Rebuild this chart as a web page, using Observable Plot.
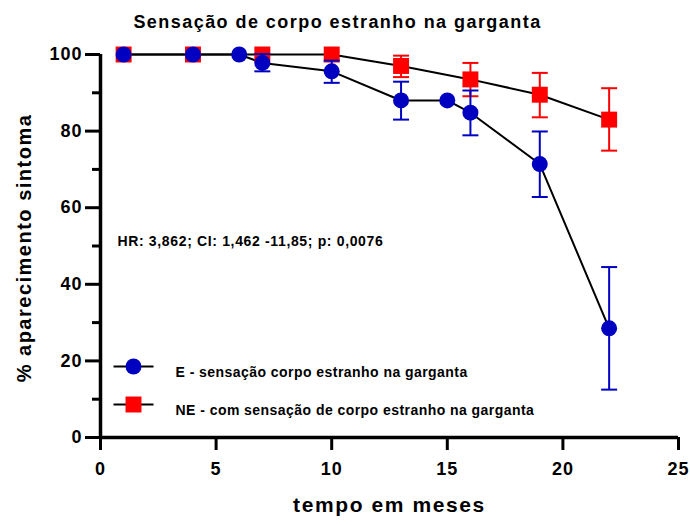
<!DOCTYPE html>
<html>
<head>
<meta charset="utf-8">
<script src="https://cdn.jsdelivr.net/npm/d3@7"></script>
<script src="https://cdn.jsdelivr.net/npm/@observablehq/plot@0.6"></script>
<style>
  html, body { margin: 0; padding: 0; background: #fff; }
  svg { display: block; }
</style>
</head>
<body>
<div id="chart"></div>
<script>
// ---- data ----
const eMonths = [1, 4, 6, 7, 10, 13, 15, 16, 19, 22];
const eValues = [100, 100, 100, 97.8, 95.6, 88.0, 88.0, 84.8, 71.4, 28.5];
const eLow    = [null, null, null, 95.6, 92.6, 83.0, null, 78.9, 62.8, 12.5];
const eHigh   = [null, null, null, 100.1, 98.4, 92.9, null, 90.6, 79.9, 44.5];

const neMonths = [1, 4, 7, 10, 13, 16, 19, 22];
const neValues = [100, 100, 100, 100, 97.0, 93.5, 89.5, 83.0];
const neLow    = [null, null, null, null, 94.1, 89.1, 83.6, 74.9];
const neHigh   = [null, null, null, null, 99.7, 97.8, 95.2, 91.2];

const xTicks = [0, 5, 10, 15, 20, 25];
const yTicks = [0, 20, 40, 60, 80, 100];
const yMinorTicks = [10, 30, 50, 70, 90];

const titleText = "Sensação de corpo estranho na garganta";
const xLabel = "tempo em meses";
const yLabel = "% aparecimento sintoma";
const statsText = "HR: 3,862; CI: 1,462 -11,85; p: 0,0076";
const legendLabels = ["E - sensação corpo estranho na garganta", "NE - com sensação de corpo estranho na garganta"];

// ---- tables ----
const eData = eMonths.map((m, i) => ({x: m, y: eValues[i], lo: eLow[i], hi: eHigh[i]}));
const neData = neMonths.map((m, i) => ({x: m, y: neValues[i], lo: neLow[i], hi: neHigh[i]}));
const eErr = eData.filter(d => d.lo != null);
const neErr = neData.filter(d => d.lo != null);

const BLUE = "#0000c0";
const RED = "#ff0000";
const FONT = "Liberation Sans, Arial, sans-serif";

const cap = { draw(ctx) { ctx.moveTo(-8, 0); ctx.lineTo(8, 0); } };
const legendLine = { draw(ctx) { ctx.moveTo(-20, 0); ctx.lineTo(20, 0); } };

function errMarks(data, color) {
  return [
    Plot.ruleX(data, {x: "x", y1: "lo", y2: "hi", stroke: color, strokeWidth: 2}),
    Plot.dot(data, {x: "x", y: "lo", symbol: cap, stroke: color, strokeWidth: 2, fill: "none"}),
    Plot.dot(data, {x: "x", y: "hi", symbol: cap, stroke: color, strokeWidth: 2, fill: "none"})
  ];
}

const chart = Plot.plot({
  width: 690,
  height: 525,
  marginLeft: 100,
  marginRight: 12,
  marginTop: 54,
  marginBottom: 88,
  style: {fontFamily: FONT, color: "#000", background: "#fff"},
  x: {domain: [0, 25]},
  y: {domain: [0, 100]},
  marks: [
    Plot.axisX({ticks: xTicks, tickSize: 13, tickPadding: 12, strokeWidth: 3, fontSize: 18, fontWeight: "bold", label: null}),
    Plot.axisY({ticks: yTicks, tickSize: 15, tickPadding: 3, strokeWidth: 3, fontSize: 18, fontWeight: "bold", label: null}),
    Plot.axisY({ticks: yMinorTicks, tickSize: 8, strokeWidth: 3, text: null, label: null}),
    Plot.ruleX([0], {strokeWidth: 3.5}),
    Plot.ruleY([0], {strokeWidth: 3.5}),
    Plot.line(neData, {x: "x", y: "y", stroke: "#000", strokeWidth: 2}),
    Plot.line(eData, {x: "x", y: "y", stroke: "#000", strokeWidth: 2}),
    ...errMarks(neErr, RED),
    Plot.dot(neData, {x: "x", y: "y", symbol: "square", r: 9, fill: RED}),
    ...errMarks(eErr, BLUE),
    Plot.dot(eData, {x: "x", y: "y", symbol: "circle", r: 8, fill: BLUE}),
    // texts
    Plot.text([titleText], {frameAnchor: "top-left", dx: 237, dy: -39, text: d => d, fontSize: 18, fontWeight: "bold", textAnchor: "middle"}),
    Plot.text([xLabel], {frameAnchor: "bottom", dy: 74, text: d => d, fontSize: 21, fontWeight: "bold", textAnchor: "middle"}),
    Plot.text([yLabel], {frameAnchor: "left", dx: -76, dy: 2, rotate: -90, text: d => d, fontSize: 20, fontWeight: "bold", textAnchor: "middle"}),
    Plot.text([statsText], {frameAnchor: "top-left", dx: 17, dy: 182, text: d => d, fontSize: 14, fontWeight: "bold", textAnchor: "start"}),
    // legend
    Plot.dot(legendLabels, {frameAnchor: "top-left", dx: 33, dy: 312, symbol: legendLine, stroke: "#000", strokeWidth: 2, fill: "none", filter: (d, i) => i === 0}),
    Plot.dot(legendLabels, {frameAnchor: "top-left", dx: 33, dy: 350, symbol: legendLine, stroke: "#000", strokeWidth: 2, fill: "none", filter: (d, i) => i === 1}),
    Plot.dot(legendLabels, {frameAnchor: "top-left", dx: 33, dy: 312, symbol: "circle", r: 8, fill: BLUE, filter: (d, i) => i === 0}),
    Plot.dot(legendLabels, {frameAnchor: "top-left", dx: 33, dy: 350, symbol: "square", r: 9, fill: RED, filter: (d, i) => i === 1}),
    Plot.text(legendLabels, {frameAnchor: "top-left", dx: 75, dy: 313, text: d => d, fontSize: 14, fontWeight: "bold", textAnchor: "start", filter: (d, i) => i === 0}),
    Plot.text(legendLabels, {frameAnchor: "top-left", dx: 75, dy: 351, text: d => d, fontSize: 14, fontWeight: "bold", textAnchor: "start", filter: (d, i) => i === 1})
  ]
});

// letter spacing (the reference's lettering is wider than Liberation Sans)
const spacing = new Map([
  [titleText, 1.45],
  [xLabel, 1.6],
  [yLabel, 1.5],
  [statsText, 0.65],
  [legendLabels[0], 0.45],
  [legendLabels[1], 0.45]
]);
d3.select(chart).selectAll("text").each(function () {
  const s = spacing.get(this.textContent);
  if (s != null) this.setAttribute("letter-spacing", s);
});
d3.select(chart).selectAll('g[aria-label="x-axis tick label"] text, g[aria-label="y-axis tick label"] text')
  .attr("letter-spacing", 1);

document.getElementById("chart").append(chart);
</script>
</body>
</html>
